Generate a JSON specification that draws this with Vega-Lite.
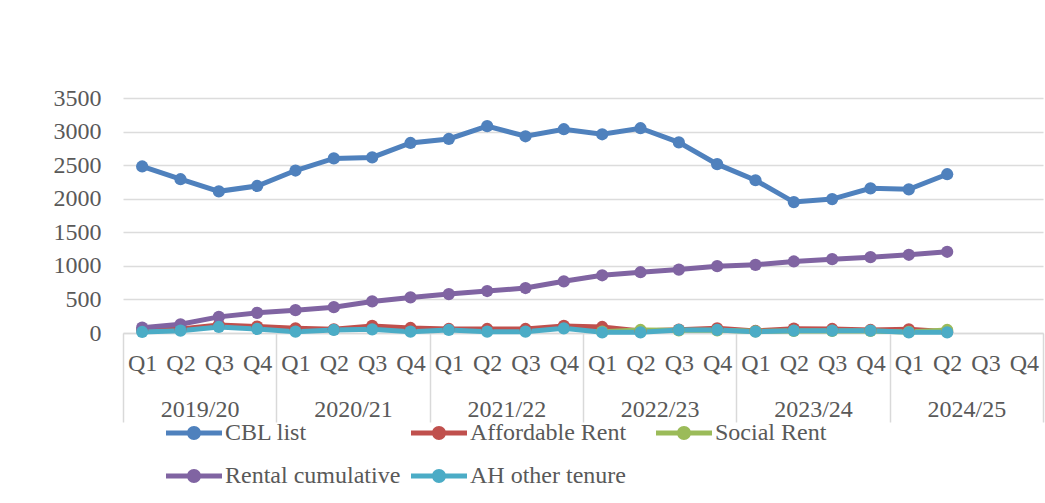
{
  "$schema": "https://vega.github.io/schema/vega-lite/v6.json",
  "width": 920,
  "height": 235,
  "autosize": "none",
  "padding": {"left": 123, "top": 98, "right": 2, "bottom": 170},
  "background": "white",
  "config": {
    "font": "Liberation Serif",
    "view": {"stroke": null},
    "axis": {"labelFont": "Liberation Serif", "labelFontSize": 24, "labelColor": "#595959", "title": null},
    "legend": {"labelFont": "Liberation Serif"}
  },
  "datasets": {
    "years": [{"year": "2019/20"}, {"year": "2020/21"}, {"year": "2021/22"}, {"year": "2022/23"}, {"year": "2023/24"}, {"year": "2024/25"}],
    "main": [
      {"p": "2019/20 Q1", "s": "CBL list", "v": 2480}, {"p": "2019/20 Q2", "s": "CBL list", "v": 2290}, {"p": "2019/20 Q3", "s": "CBL list", "v": 2110}, {"p": "2019/20 Q4", "s": "CBL list", "v": 2190},
      {"p": "2020/21 Q1", "s": "CBL list", "v": 2420}, {"p": "2020/21 Q2", "s": "CBL list", "v": 2600}, {"p": "2020/21 Q3", "s": "CBL list", "v": 2615}, {"p": "2020/21 Q4", "s": "CBL list", "v": 2830},
      {"p": "2021/22 Q1", "s": "CBL list", "v": 2890}, {"p": "2021/22 Q2", "s": "CBL list", "v": 3080}, {"p": "2021/22 Q3", "s": "CBL list", "v": 2930}, {"p": "2021/22 Q4", "s": "CBL list", "v": 3035},
      {"p": "2022/23 Q1", "s": "CBL list", "v": 2960}, {"p": "2022/23 Q2", "s": "CBL list", "v": 3050}, {"p": "2022/23 Q3", "s": "CBL list", "v": 2840}, {"p": "2022/23 Q4", "s": "CBL list", "v": 2515},
      {"p": "2023/24 Q1", "s": "CBL list", "v": 2275}, {"p": "2023/24 Q2", "s": "CBL list", "v": 1950}, {"p": "2023/24 Q3", "s": "CBL list", "v": 1995}, {"p": "2023/24 Q4", "s": "CBL list", "v": 2155},
      {"p": "2024/25 Q1", "s": "CBL list", "v": 2140}, {"p": "2024/25 Q2", "s": "CBL list", "v": 2365},

      {"p": "2019/20 Q1", "s": "Affordable Rent", "v": 45}, {"p": "2019/20 Q2", "s": "Affordable Rent", "v": 60}, {"p": "2019/20 Q3", "s": "Affordable Rent", "v": 120}, {"p": "2019/20 Q4", "s": "Affordable Rent", "v": 95},
      {"p": "2020/21 Q1", "s": "Affordable Rent", "v": 70}, {"p": "2020/21 Q2", "s": "Affordable Rent", "v": 55}, {"p": "2020/21 Q3", "s": "Affordable Rent", "v": 105}, {"p": "2020/21 Q4", "s": "Affordable Rent", "v": 75},
      {"p": "2021/22 Q1", "s": "Affordable Rent", "v": 60}, {"p": "2021/22 Q2", "s": "Affordable Rent", "v": 60}, {"p": "2021/22 Q3", "s": "Affordable Rent", "v": 60}, {"p": "2021/22 Q4", "s": "Affordable Rent", "v": 105},
      {"p": "2022/23 Q1", "s": "Affordable Rent", "v": 90}, {"p": "2022/23 Q2", "s": "Affordable Rent", "v": 30}, {"p": "2022/23 Q3", "s": "Affordable Rent", "v": 50}, {"p": "2022/23 Q4", "s": "Affordable Rent", "v": 70},
      {"p": "2023/24 Q1", "s": "Affordable Rent", "v": 30}, {"p": "2023/24 Q2", "s": "Affordable Rent", "v": 65}, {"p": "2023/24 Q3", "s": "Affordable Rent", "v": 60}, {"p": "2023/24 Q4", "s": "Affordable Rent", "v": 45},
      {"p": "2024/25 Q1", "s": "Affordable Rent", "v": 55}, {"p": "2024/25 Q2", "s": "Affordable Rent", "v": 20},

      {"p": "2022/23 Q1", "s": "Social Rent", "v": 20}, {"p": "2022/23 Q2", "s": "Social Rent", "v": 45}, {"p": "2022/23 Q3", "s": "Social Rent", "v": 40}, {"p": "2022/23 Q4", "s": "Social Rent", "v": 40},
      {"p": "2023/24 Q1", "s": "Social Rent", "v": 25}, {"p": "2023/24 Q2", "s": "Social Rent", "v": 30}, {"p": "2023/24 Q3", "s": "Social Rent", "v": 30}, {"p": "2023/24 Q4", "s": "Social Rent", "v": 30},
      {"p": "2024/25 Q1", "s": "Social Rent", "v": 15}, {"p": "2024/25 Q2", "s": "Social Rent", "v": 45},

      {"p": "2019/20 Q1", "s": "Rental cumulative", "v": 80}, {"p": "2019/20 Q2", "s": "Rental cumulative", "v": 130}, {"p": "2019/20 Q3", "s": "Rental cumulative", "v": 240}, {"p": "2019/20 Q4", "s": "Rental cumulative", "v": 300},
      {"p": "2020/21 Q1", "s": "Rental cumulative", "v": 340}, {"p": "2020/21 Q2", "s": "Rental cumulative", "v": 385}, {"p": "2020/21 Q3", "s": "Rental cumulative", "v": 470}, {"p": "2020/21 Q4", "s": "Rental cumulative", "v": 530},
      {"p": "2021/22 Q1", "s": "Rental cumulative", "v": 580}, {"p": "2021/22 Q2", "s": "Rental cumulative", "v": 625}, {"p": "2021/22 Q3", "s": "Rental cumulative", "v": 670}, {"p": "2021/22 Q4", "s": "Rental cumulative", "v": 770},
      {"p": "2022/23 Q1", "s": "Rental cumulative", "v": 860}, {"p": "2022/23 Q2", "s": "Rental cumulative", "v": 905}, {"p": "2022/23 Q3", "s": "Rental cumulative", "v": 945}, {"p": "2022/23 Q4", "s": "Rental cumulative", "v": 995},
      {"p": "2023/24 Q1", "s": "Rental cumulative", "v": 1015}, {"p": "2023/24 Q2", "s": "Rental cumulative", "v": 1065}, {"p": "2023/24 Q3", "s": "Rental cumulative", "v": 1100}, {"p": "2023/24 Q4", "s": "Rental cumulative", "v": 1130},
      {"p": "2024/25 Q1", "s": "Rental cumulative", "v": 1165}, {"p": "2024/25 Q2", "s": "Rental cumulative", "v": 1210},

      {"p": "2019/20 Q1", "s": "AH other tenure", "v": 15}, {"p": "2019/20 Q2", "s": "AH other tenure", "v": 35}, {"p": "2019/20 Q3", "s": "AH other tenure", "v": 90}, {"p": "2019/20 Q4", "s": "AH other tenure", "v": 60},
      {"p": "2020/21 Q1", "s": "AH other tenure", "v": 20}, {"p": "2020/21 Q2", "s": "AH other tenure", "v": 45}, {"p": "2020/21 Q3", "s": "AH other tenure", "v": 55}, {"p": "2020/21 Q4", "s": "AH other tenure", "v": 20},
      {"p": "2021/22 Q1", "s": "AH other tenure", "v": 45}, {"p": "2021/22 Q2", "s": "AH other tenure", "v": 20}, {"p": "2021/22 Q3", "s": "AH other tenure", "v": 20}, {"p": "2021/22 Q4", "s": "AH other tenure", "v": 70},
      {"p": "2022/23 Q1", "s": "AH other tenure", "v": 10}, {"p": "2022/23 Q2", "s": "AH other tenure", "v": 10}, {"p": "2022/23 Q3", "s": "AH other tenure", "v": 45}, {"p": "2022/23 Q4", "s": "AH other tenure", "v": 45},
      {"p": "2023/24 Q1", "s": "AH other tenure", "v": 20}, {"p": "2023/24 Q2", "s": "AH other tenure", "v": 35}, {"p": "2023/24 Q3", "s": "AH other tenure", "v": 35}, {"p": "2023/24 Q4", "s": "AH other tenure", "v": 35},
      {"p": "2024/25 Q1", "s": "AH other tenure", "v": 10}, {"p": "2024/25 Q2", "s": "AH other tenure", "v": 10}
    ]
  },
  "layer": [
    {
      "data": {"name": "years"},
      "mark": {"type": "rule", "opacity": 0},
      "encoding": {
        "x": {
          "field": "year", "type": "nominal", "sort": null,
          "scale": {"paddingInner": 0, "paddingOuter": 0},
          "axis": {"orient": "bottom", "domain": false, "grid": false, "ticks": true, "tickBand": "extent", "tickSize": 89, "tickColor": "#d9d9d9", "tickWidth": 1.5, "labelPadding": -25, "labelAngle": 0}
        }
      }
    },
    {
      "data": {"name": "main"},
      "encoding": {
        "x": {
          "field": "p", "type": "nominal",
          "scale": {"paddingInner": 0, "paddingOuter": 0, "domain": ["2019/20 Q1","2019/20 Q2","2019/20 Q3","2019/20 Q4","2020/21 Q1","2020/21 Q2","2020/21 Q3","2020/21 Q4","2021/22 Q1","2021/22 Q2","2021/22 Q3","2021/22 Q4","2022/23 Q1","2022/23 Q2","2022/23 Q3","2022/23 Q4","2023/24 Q1","2023/24 Q2","2023/24 Q3","2023/24 Q4","2024/25 Q1","2024/25 Q2","2024/25 Q3","2024/25 Q4"]},
          "axis": {"orient": "bottom", "domain": true, "domainColor": "#d9d9d9", "domainWidth": 1.5, "ticks": false, "grid": false, "labelAngle": 0, "labelPadding": 18, "labelExpr": "slice(datum.label, -2)"}
        },
        "y": {
          "field": "v", "type": "quantitative",
          "scale": {"domain": [0, 3500], "nice": false},
          "axis": {"values": [0, 500, 1000, 1500, 2000, 2500, 3000, 3500], "format": "d", "domain": false, "ticks": false, "grid": true, "gridColor": "#dcdcdc", "gridWidth": 1.5, "labelPadding": 22}
        },
        "color": {
          "field": "s", "type": "nominal",
          "scale": {"domain": ["CBL list", "Affordable Rent", "Social Rent", "Rental cumulative", "AH other tenure"], "range": ["#4F81BD", "#C0504D", "#9BBB59", "#8064A2", "#4BACC6"]},
          "legend": {"title": null, "orient": "none", "legendX": 43, "legendY": 307, "direction": "horizontal", "columns": 3, "gridAlign": "all",
             "symbolType": "M-1,-0.09L1,-0.09L1,0.09L-1,0.09Z M0.25,0A0.25,0.25,0,1,1,-0.25,0A0.25,0.25,0,1,1,0.25,0Z",
             "symbolSize": 3136, "symbolStrokeWidth": 0, "symbolOpacity": 1, "labelFontSize": 24, "labelColor": "#595959", "labelOffset": 3, "columnPadding": 10, "rowPadding": 3, "labelLimit": 400,
             "encode": {"symbols": {"update": {"fill": {"scale": "color", "field": "value"}, "strokeWidth": {"value": 0}, "opacity": {"value": 1}}}}}
        }
      },
      "layer": [
        {"mark": {"type": "line", "strokeWidth": 5}},
        {"mark": {"type": "point", "filled": true, "size": 150, "opacity": 1}}
      ]
    }
  ],
  "resolve": {"scale": {"x": "independent"}, "axis": {"x": "independent"}}
}
